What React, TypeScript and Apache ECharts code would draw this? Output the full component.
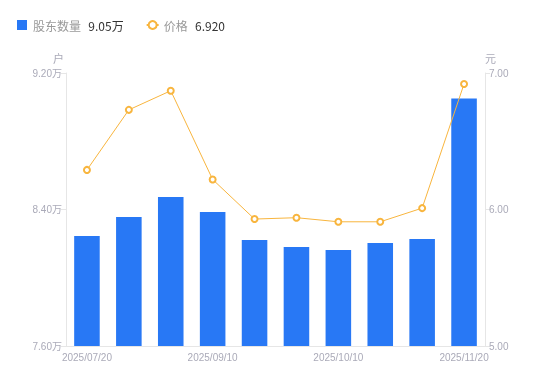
import React, { useEffect, useRef } from "react";
import * as echarts from "echarts";

const categories = [
  "2025/07/20",
  "2025/08/10",
  "2025/08/20",
  "2025/09/10",
  "2025/09/20",
  "2025/09/30",
  "2025/10/10",
  "2025/10/20",
  "2025/10/31",
  "2025/11/20",
];
const holders = [82450, 83560, 84730, 83850, 82210, 81800, 81630, 82040, 82270, 90500];
const prices = [6.29, 6.73, 6.87, 6.22, 5.93, 5.94, 5.91, 5.91, 6.01, 6.92];
const holderName = "股东数量";
const priceName = "价格";
const holderLatest = "9.05万";
const priceLatest = "6.920";

const labelFont = "'Liberation Sans', 'Noto Sans CJK SC', sans-serif";
const labelColor = "#aaaab8";

export default function App() {
  const ref = useRef<HTMLDivElement>(null);
  useEffect(() => {
    if (!ref.current) return;
    const chart = echarts.init(ref.current, null, { renderer: "svg" });
    chart.setOption({
      animation: false,
      legend: {
        left: 12,
        top: 14,
        itemWidth: 12,
        itemHeight: 10,
        itemGap: 22,
        textStyle: {
          rich: {
            n: { color: "#999", fontSize: 12, fontFamily: "'Noto Sans CJK SC', sans-serif" },
            v: { color: "#333", fontSize: 12, fontFamily: "'Noto Sans CJK SC', sans-serif", padding: [0, 0, 0, 4] },
          },
        },
        formatter: (name: string) =>
          `{n|${name}} {v|${name === holderName ? holderLatest : priceLatest}}`,
        data: [
          { name: holderName, icon: "path://M0,0h10v10h-10z" },
          { name: priceName },
        ],
      },
      grid: { left: 66, right: 65, top: 73, bottom: 35 },
      xAxis: {
        type: "category",
        data: categories,
        axisLine: { lineStyle: { color: "#e6e6e6" } },
        axisTick: { show: false },
        axisLabel: {
          interval: 2,
          color: labelColor,
          fontSize: 10,
          margin: 6,
          fontFamily: labelFont,
        },
      },
      yAxis: [
        {
          type: "value",
          name: "户",
          nameGap: 10,
          nameTextStyle: { color: labelColor, fontSize: 11, align: "right", padding: [0, 2, 0, 0], fontFamily: "'Noto Sans CJK SC', sans-serif" },
          min: 76000,
          max: 92000,
          interval: 8000,
          splitLine: { show: false },
          axisLine: { show: true, lineStyle: { color: "#e6e6e6" } },
          axisTick: { show: true, length: 5, lineStyle: { color: "#e6e6e6" } },
          axisLabel: {
            color: labelColor,
            fontSize: 10,
            margin: 4,
            fontFamily: labelFont,
            formatter: (v: number) => (v / 10000).toFixed(2) + "万",
          },
        },
        {
          type: "value",
          name: "元",
          nameGap: 10,
          nameTextStyle: { color: labelColor, fontSize: 11, align: "left", fontFamily: "'Noto Sans CJK SC', sans-serif" },
          min: 5,
          max: 7,
          interval: 1,
          splitLine: { show: false },
          axisLine: { show: true, lineStyle: { color: "#e6e6e6" } },
          axisTick: { show: true, length: 5, lineStyle: { color: "#e6e6e6" } },
          axisLabel: {
            color: labelColor,
            fontSize: 10,
            margin: 4,
            fontFamily: labelFont,
            formatter: (v: number) => v.toFixed(2),
          },
        },
      ],
      series: [
        {
          name: holderName,
          type: "bar",
          data: holders,
          barWidth: "61%",
          itemStyle: { color: "#2878F5" },
        },
        {
          name: priceName,
          type: "line",
          yAxisIndex: 1,
          data: prices,
          symbol: "emptyCircle",
          symbolSize: 6,
          itemStyle: { color: "#F8B53E", borderWidth: 2 },
          lineStyle: { width: 1, color: "#F8B53E" },
        },
      ],
    });
    return () => chart.dispose();
  }, []);
  return (
    <div
      ref={ref}
      style={{ position: "fixed", left: 0, top: 0, width: 550, height: 381 }}
    />
  );
}
